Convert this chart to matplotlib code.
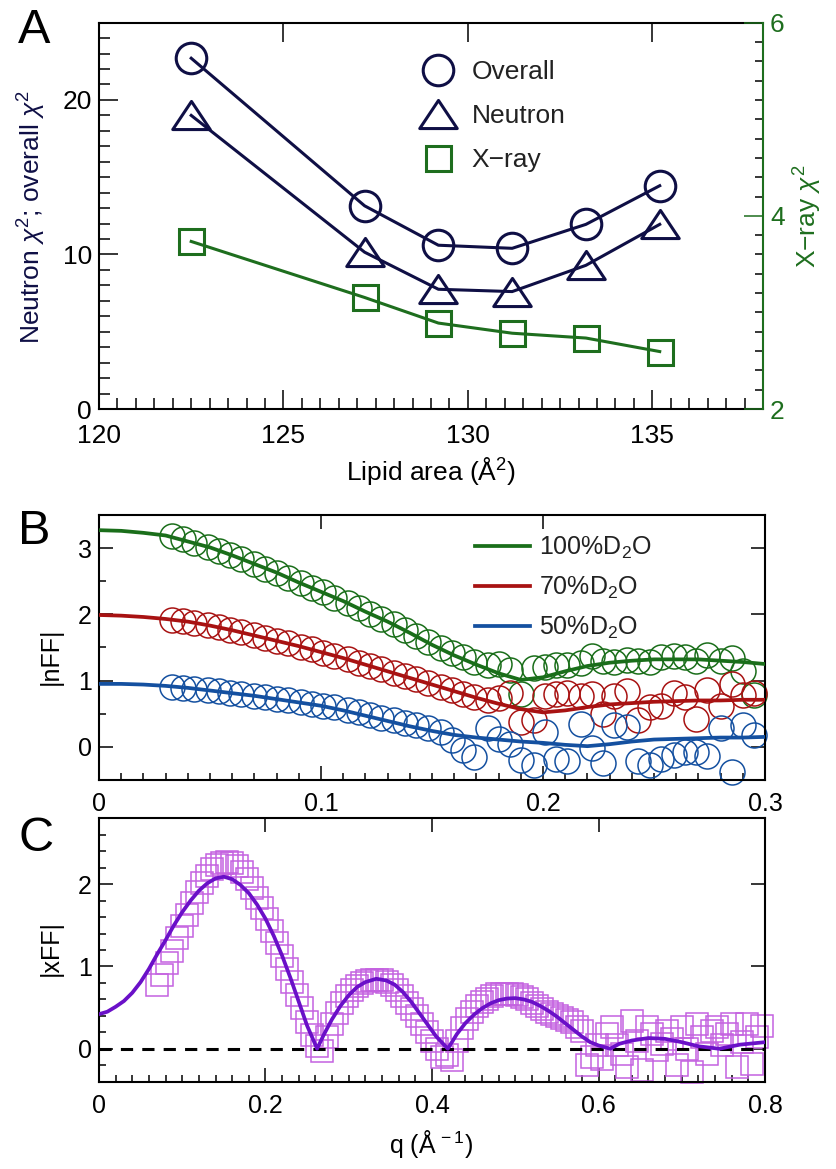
import matplotlib
matplotlib.use('Agg')
import matplotlib.pyplot as plt
from matplotlib.ticker import MultipleLocator, FuncFormatter
from matplotlib.lines import Line2D
from matplotlib.path import Path

plt.rcParams['font.family'] = ['Liberation Sans', 'DejaVu Sans']
plt.rcParams['mathtext.fontset'] = 'custom'
plt.rcParams['mathtext.rm'] = 'Liberation Sans'
plt.rcParams['mathtext.it'] = 'Liberation Sans:italic'
plt.rcParams['mathtext.bf'] = 'Liberation Sans:bold'
plt.rcParams['axes.unicode_minus'] = True

# ---------------- Panel A data ----------------
area = [122.5, 127.2, 129.2, 131.2, 133.2, 135.2]
chi_overall = [22.7, 13.15, 10.6, 10.4, 11.95, 14.45]
chi_neutron = [19.0, 10.15, 7.75, 7.6, 9.3, 11.95]
chi_xray = [3.735, 3.155, 2.89, 2.785, 2.735, 2.595]

# ---------------- Panel B data ----------------
q_n = [0.033, 0.038, 0.043, 0.049, 0.054, 0.059, 0.064, 0.070, 0.075, 0.080,
       0.085, 0.091, 0.096, 0.101, 0.106, 0.112, 0.117, 0.122, 0.127, 0.133,
       0.138, 0.143, 0.148, 0.154, 0.159, 0.164, 0.169, 0.175, 0.180, 0.185,
       0.190, 0.196, 0.201, 0.206, 0.211, 0.217, 0.222, 0.227, 0.232, 0.238,
       0.243, 0.248, 0.253, 0.259, 0.264, 0.269, 0.274, 0.280, 0.285, 0.290,
       0.295]
nff_100 = [3.18, 3.13, 3.08, 3.02, 2.96, 2.89, 2.83, 2.76, 2.69, 2.62,
           2.55, 2.47, 2.40, 2.33, 2.25, 2.17, 2.09, 2.01, 1.93, 1.85,
           1.76, 1.67, 1.58, 1.49, 1.42, 1.35, 1.28, 1.24, 1.25, 1.16,
           0.79, 1.19, 1.21, 1.24, 1.24, 1.27, 1.37, 1.29, 1.28, 1.31,
           1.30, 1.28, 1.36, 1.37, 1.35, 1.29, 1.39, 1.29, 1.34, 1.14,
           0.78]
nff_70 = [1.92, 1.90, 1.87, 1.84, 1.81, 1.77, 1.73, 1.69, 1.65, 1.60,
          1.56, 1.51, 1.47, 1.42, 1.37, 1.32, 1.27, 1.22, 1.17, 1.12,
          1.07, 1.02, 0.96, 0.91, 0.86, 0.80, 0.75, 0.70, 0.73, 0.82,
          0.38, 0.40, 0.76, 0.79, 0.82, 0.77, 0.80, 0.50, 0.76, 0.84,
          0.40, 0.60, 0.62, 0.82, 0.75, 0.42, 0.86, 0.62, 0.95, 0.78,
          0.82]
nff_50 = [0.91, 0.89, 0.88, 0.86, 0.84, 0.82, 0.80, 0.77, 0.75, 0.72,
          0.70, 0.67, 0.65, 0.62, 0.60, 0.56, 0.52, 0.48, 0.44, 0.40,
          0.36, 0.33, 0.29, 0.22, 0.10, -0.05, -0.15, 0.28, 0.12, 0.05,
          -0.20, -0.28, 0.23, -0.18, -0.22, 0.35, -0.02, -0.24, 0.33, 0.30,
          -0.22, -0.28, -0.18, -0.13, -0.08, -0.08, -0.14, 0.28, -0.38, 0.33,
          0.18]

q_fit_n = [0.00, 0.01, 0.02, 0.03, 0.04, 0.05, 0.06, 0.07, 0.08, 0.09,
           0.10, 0.11, 0.12, 0.13, 0.14, 0.15, 0.16, 0.17, 0.18, 0.19,
           0.20, 0.21, 0.22, 0.23, 0.24, 0.25, 0.26, 0.27, 0.28, 0.29, 0.30]
fit_100 = [3.27, 3.26, 3.23, 3.19, 3.10, 3.01, 2.89, 2.76, 2.63, 2.48,
           2.34, 2.20, 2.04, 1.89, 1.72, 1.54, 1.38, 1.24, 1.11, 1.01,
           1.05, 1.14, 1.22, 1.27, 1.30, 1.32, 1.32, 1.32, 1.30, 1.28, 1.25]
fit_70 = [1.99, 1.98, 1.96, 1.93, 1.89, 1.83, 1.76, 1.68, 1.60, 1.52,
          1.43, 1.34, 1.24, 1.14, 1.04, 0.94, 0.84, 0.74, 0.65, 0.57,
          0.52, 0.55, 0.60, 0.64, 0.66, 0.68, 0.69, 0.70, 0.70, 0.71, 0.71]
fit_50 = [0.95, 0.95, 0.94, 0.92, 0.89, 0.85, 0.81, 0.77, 0.72, 0.67,
          0.62, 0.55, 0.47, 0.39, 0.31, 0.24, 0.18, 0.14, 0.11, 0.08,
          0.06, 0.03, 0.01, 0.04, 0.08, 0.11, 0.12, 0.13, 0.14, 0.14, 0.15]
labels_b = ['100%D$_{2}$O', '70%D$_{2}$O', '50%D$_{2}$O']

# ---------------- Panel C data ----------------
q_x = [0.070, 0.076, 0.082, 0.088, 0.094, 0.100, 0.106, 0.112, 0.118, 0.124,
       0.130, 0.136, 0.142, 0.148, 0.154, 0.160, 0.166, 0.172, 0.178, 0.184,
       0.190, 0.196, 0.202, 0.208, 0.214, 0.220, 0.226, 0.232, 0.238, 0.244,
       0.250, 0.256, 0.262, 0.268, 0.274, 0.280, 0.286, 0.292, 0.298, 0.304,
       0.310, 0.316, 0.322, 0.328, 0.334, 0.340, 0.346, 0.352, 0.358, 0.364,
       0.370, 0.376, 0.382, 0.388, 0.394, 0.400, 0.406, 0.412, 0.418, 0.424,
       0.430, 0.436, 0.442, 0.448, 0.454, 0.460, 0.466, 0.472, 0.478, 0.484,
       0.490, 0.496, 0.502, 0.508, 0.514, 0.520, 0.526, 0.532, 0.538, 0.544,
       0.550, 0.556, 0.562, 0.568, 0.574, 0.580, 0.586, 0.592, 0.598, 0.604,
       0.610, 0.616, 0.622, 0.628, 0.634, 0.640, 0.646, 0.652, 0.658, 0.664,
       0.670, 0.676, 0.682, 0.688, 0.694, 0.700, 0.706, 0.712, 0.718, 0.724,
       0.730, 0.736, 0.742, 0.748, 0.754, 0.760, 0.766, 0.772, 0.778, 0.784,
       0.790, 0.796]
xff = [0.77, 0.90, 1.04, 1.19, 1.34, 1.49, 1.63, 1.77, 1.90, 2.01,
       2.10, 2.18, 2.23, 2.26, 2.27, 2.26, 2.22, 2.15, 2.06, 1.95,
       1.83, 1.71, 1.58, 1.43, 1.28, 1.13, 0.97, 0.81, 0.65, 0.49,
       0.33, 0.17, 0.03, -0.03, 0.14, 0.30, 0.44, 0.56, 0.64, 0.71,
       0.76, 0.80, 0.82, 0.83, 0.84, 0.83, 0.81, 0.77, 0.71, 0.64,
       0.56, 0.48, 0.40, 0.30, 0.20, 0.10, 0.00, -0.10, -0.08, -0.14,
       0.10, 0.25, 0.36, 0.45, 0.52, 0.57, 0.61, 0.64, 0.66, 0.67,
       0.67, 0.66, 0.65, 0.63, 0.60, 0.56, 0.52, 0.48, 0.45, 0.42,
       0.40, 0.37, 0.35, 0.32, 0.27, 0.22, -0.20, -0.10, 0.04, -0.12,
       0.18, 0.26, 0.05, -0.06, -0.22, 0.34, 0.10, -0.26, 0.26, 0.18,
       -0.02, 0.06, 0.22, 0.12, -0.20, 0.26, 0.00, -0.28, 0.30, 0.14,
       -0.06, 0.22, 0.26, 0.05, 0.18, 0.30, -0.22, 0.08, 0.30, -0.18,
       0.14, 0.28]
q_fit_x = [0.00, 0.01, 0.02, 0.03, 0.04, 0.05, 0.06, 0.07, 0.08, 0.09,
           0.10, 0.11, 0.12, 0.13, 0.14, 0.15, 0.16, 0.17, 0.18, 0.19,
           0.20, 0.21, 0.22, 0.23, 0.24, 0.25, 0.262, 0.27, 0.28, 0.29,
           0.30, 0.31, 0.32, 0.333, 0.345, 0.355, 0.365, 0.375, 0.385, 0.395,
           0.405, 0.419, 0.43, 0.44, 0.45, 0.46, 0.47, 0.48, 0.49, 0.50,
           0.51, 0.52, 0.53, 0.54, 0.55, 0.56, 0.57, 0.58, 0.59, 0.60,
           0.614, 0.625, 0.64, 0.66, 0.68, 0.70, 0.72, 0.745, 0.77, 0.80]
fit_x = [0.42, 0.45, 0.51, 0.58, 0.68, 0.81, 0.97, 1.15, 1.32, 1.50,
         1.66, 1.80, 1.92, 2.01, 2.07, 2.09, 2.06, 1.99, 1.89, 1.75,
         1.58, 1.37, 1.13, 0.86, 0.57, 0.28, 0.00, 0.17, 0.36, 0.52,
         0.65, 0.75, 0.81, 0.85, 0.83, 0.78, 0.69, 0.57, 0.43, 0.29,
         0.15, 0.00, 0.18, 0.31, 0.41, 0.49, 0.55, 0.59, 0.61, 0.615,
         0.60, 0.57, 0.52, 0.46, 0.39, 0.31, 0.23, 0.15, 0.08, 0.04,
         0.00, 0.06, 0.10, 0.13, 0.12, 0.08, 0.03, 0.00, 0.05, 0.08]

# ---------------- styles ----------------
navy = '#0f0f45'
greenA = '#1e6e1e'
c100 = '#1a6e1a'
c70 = '#a81212'
c50 = '#1450a0'
csq = '#c462e0'
cfit = '#6a10c8'

fmt = FuncFormatter(lambda v, p: '%g' % round(v, 6))

fig = plt.figure(figsize=(8.36, 11.69), dpi=100)

def style_ticks(ax, size, majlen, minlen):
    ax.tick_params(which='both', direction='in', width=1.1, labelsize=size,
                   colors='black')
    ax.tick_params(which='major', length=majlen)
    ax.tick_params(which='minor', length=minlen)
    for s in ax.spines.values():
        s.set_linewidth(1.5)

# ---------------- Panel A ----------------
axA = fig.add_axes([0.1184, 0.6501, 0.7943, 0.3305])
tri = Path([(-1, -0.75), (1, -0.75), (0, 0.75), (-1, -0.75)],
           [Path.MOVETO, Path.LINETO, Path.LINETO, Path.CLOSEPOLY])
axA.plot(area, chi_overall, color=navy, lw=2.2, marker='o', ms=22,
         mfc='none', mec=navy, mew=2.2, clip_on=False, zorder=3)
axA.plot(area, chi_neutron, color=navy, lw=2.2, marker=tri, ms=27,
         mfc='none', mec=navy, mew=2.2, clip_on=False, zorder=3)
axA.set_xlim(120, 138)
axA.set_ylim(0, 25)
axA.xaxis.set_major_locator(MultipleLocator(5))
axA.xaxis.set_minor_locator(MultipleLocator(0.5))
axA.yaxis.set_major_locator(MultipleLocator(10))
axA.yaxis.set_minor_locator(MultipleLocator(1))
axA.xaxis.set_major_formatter(fmt)
axA.yaxis.set_major_formatter(fmt)
style_ticks(axA, 19, 13.5, 8)
axA.tick_params(top=True, right=False)
axA.tick_params(axis='x', pad=11)
axA.tick_params(axis='y', pad=5)
axA.spines['right'].set_visible(False)
axA.set_xlabel('Lipid area (Å$^2$)', fontsize=19)
axA.xaxis.set_label_coords(0.5, -0.118)
axA.set_ylabel(r'Neutron $\chi^2$; overall $\chi^2$', fontsize=19, color=navy)
axA.yaxis.set_label_coords(-0.077, 0.497)

axA2 = axA.twinx()
axA2.plot(area, chi_xray, color=greenA, lw=2.2, marker='s', ms=18,
          mfc='none', mec=greenA, mew=2.2, clip_on=False, zorder=3)
axA2.set_ylim(2, 6)
axA2.yaxis.set_major_locator(MultipleLocator(2))
axA2.yaxis.set_minor_locator(MultipleLocator(0.2))
axA2.yaxis.set_major_formatter(fmt)
style_ticks(axA2, 19, 13.5, 6)
axA2.tick_params(axis='y', colors=greenA, pad=5)
for k in ('left', 'top', 'bottom'):
    axA2.spines[k].set_visible(False)
axA2.spines['right'].set_color(greenA)
axA2.set_ylabel('X\u2212ray $\\chi^2$', fontsize=19, color=greenA)
axA2.yaxis.set_label_coords(1.044, 0.5)

hA = [Line2D([], [], ls='none', marker='o', ms=22, mfc='none', mec=navy, mew=2.2),
      Line2D([], [], ls='none', marker=tri, ms=27, mfc='none', mec=navy, mew=2.2),
      Line2D([], [], ls='none', marker='s', ms=18, mfc='none', mec=greenA, mew=2.2)]
legA = axA2.legend(hA, ['Overall', 'Neutron', 'X\u2212ray'], loc='upper left',
                   bbox_to_anchor=(0.486, 0.904), frameon=False, fontsize=19,
                   handlelength=1.2, handletextpad=0.7, labelspacing=0.77,
                   borderpad=0, borderaxespad=0)
for t in legA.get_texts():
    t.set_color('#222222')

# ---------------- Panel B ----------------
axB = fig.add_axes([0.1184, 0.3328, 0.7967, 0.2267])
for vals, c in ((nff_100, c100), (nff_70, c70), (nff_50, c50)):
    axB.plot(q_n, vals, ls='none', marker='o', ms=18, mfc='none', mec=c,
             mew=1.1, clip_on=False, zorder=2)
lb = []
for vals, c in ((fit_100, c100), (fit_70, c70), (fit_50, c50)):
    l, = axB.plot(q_fit_n, vals, color=c, lw=2.7, zorder=3)
    lb.append(l)
axB.set_xlim(0, 0.3)
axB.set_ylim(-0.5, 3.5)
axB.xaxis.set_major_locator(MultipleLocator(0.1))
axB.xaxis.set_minor_locator(MultipleLocator(0.01))
axB.yaxis.set_major_locator(MultipleLocator(1))
axB.yaxis.set_minor_locator(MultipleLocator(0.5))
axB.xaxis.set_major_formatter(fmt)
axB.yaxis.set_major_formatter(fmt)
style_ticks(axB, 18, 10, 5)
axB.tick_params(top=True, right=True)
axB.tick_params(axis='x', pad=9)
axB.tick_params(axis='y', pad=5)
axB.set_ylabel('|nFF|', fontsize=18)
axB.yaxis.set_label_coords(-0.054, 0.465)
legB = axB.legend(lb, labels_b, loc='upper left', bbox_to_anchor=(0.565, 0.925),
                  frameon=False, fontsize=18, handlelength=2.2,
                  handletextpad=0.35, labelspacing=0.56, borderpad=0,
                  borderaxespad=0)
for t in legB.get_texts():
    t.set_color('#222222')

# ---------------- Panel C ----------------
axC = fig.add_axes([0.1184, 0.0747, 0.7967, 0.2253])
axC.plot(q_x, xff, ls='none', marker='s', ms=16, mfc='none', mec=csq,
         mew=1.1, clip_on=False, zorder=2)
axC.axhline(0, color='black', lw=2.2, ls=(0, (4, 3)), zorder=3)
axC.plot(q_fit_x, fit_x, color=cfit, lw=2.7, zorder=4)
axC.set_xlim(0, 0.8)
axC.set_ylim(-0.4, 2.8)
axC.xaxis.set_major_locator(MultipleLocator(0.2))
axC.xaxis.set_minor_locator(MultipleLocator(0.02))
axC.yaxis.set_major_locator(MultipleLocator(1))
axC.yaxis.set_minor_locator(MultipleLocator(0.2))
axC.xaxis.set_major_formatter(fmt)
axC.yaxis.set_major_formatter(fmt)
style_ticks(axC, 18, 10, 5)
axC.tick_params(top=True, right=True)
axC.tick_params(axis='x', pad=9)
axC.tick_params(axis='y', pad=5)
axC.set_ylabel('|xFF|', fontsize=18)
axC.yaxis.set_label_coords(-0.054, 0.508)
axC.set_xlabel('q (Å$^{\\,-1}$)', fontsize=18)
axC.xaxis.set_label_coords(0.4985, -0.176)

# panel letters
fig.text(0.022, 0.974, 'A', fontsize=35, va='center', ha='left')
fig.text(0.022, 0.545, 'B', fontsize=35, va='center', ha='left')
fig.text(0.022, 0.283, 'C', fontsize=35, va='center', ha='left')

fig.savefig('out.png', dpi=100)
